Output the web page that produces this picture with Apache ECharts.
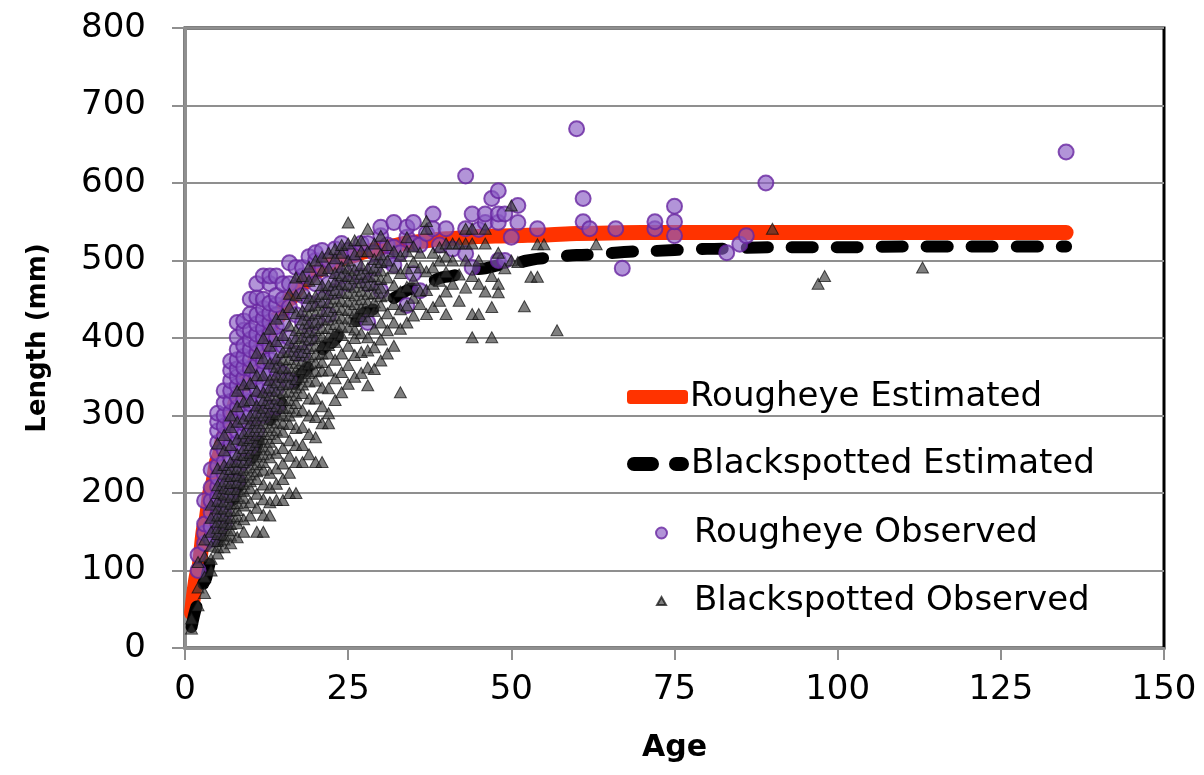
<!DOCTYPE html>
<html>
<head>
<meta charset="utf-8">
<script src="https://cdn.jsdelivr.net/npm/echarts@6/dist/echarts.min.js"></script>
<style>
  html, body { margin: 0; padding: 0; background: #fff; }
  #chart { width: 1204px; height: 775px; }
</style>
</head>
<body>
<div id="chart"></div>
<script>
// Axis ticks
const ageTicks = [0, 25, 50, 75, 100, 125, 150];
const lengthTicks = [0, 100, 200, 300, 400, 500, 600, 700, 800];

// Estimated growth curves (age in years, length in mm)
const estimatedAges = [1, 2, 3, 4, 5, 6, 7, 8, 9, 10, 12, 14, 16, 18, 20, 22, 25, 28, 31, 35, 40, 45, 50, 55, 60, 70, 80, 90, 100, 110, 120, 135];
const rougheyeEstimated = [45, 100, 158, 205, 243, 275, 300, 322, 342, 360, 394, 425, 450, 470, 485, 495, 505, 512, 518, 524, 528, 531, 532, 533, 535, 536, 536, 536, 536, 536, 536, 536];
const blackspottedEstimated = [27, 57, 86, 113, 139, 163, 186, 206, 226, 244, 278, 307, 333, 355, 375, 392, 415, 434, 449, 464, 479, 489, 497, 503, 507, 512, 515, 517, 517, 518, 518, 518];

// Observed fish: [age, [lengths at that age]]
const rougheyeObserved = [
  [2, [100, 120]],
  [3, [135, 148, 160, 190]],
  [4, [140, 156, 175, 190, 207, 230]],
  [5, [150, 162, 172, 184, 195, 208, 220, 235, 251, 265, 280, 292, 303]],
  [6, [161, 173, 185, 198, 210, 225, 240, 256, 272, 286, 300, 316, 332]],
  [7, [200, 215, 230, 246, 262, 276, 290, 304, 318, 332, 345, 358, 370]],
  [8, [216, 233, 250, 265, 280, 295, 310, 324, 338, 350, 360, 372, 385, 401, 420]],
  [9, [240, 258, 275, 290, 305, 320, 335, 348, 362, 376, 390, 410, 422]],
  [10, [259, 280, 300, 315, 330, 345, 360, 372, 385, 398, 410, 431, 450]],
  [11, [280, 300, 320, 335, 350, 365, 380, 392, 405, 418, 430, 452, 470]],
  [12, [300, 320, 340, 355, 370, 385, 400, 412, 425, 438, 450, 480]],
  [13, [311, 335, 355, 372, 390, 405, 420, 432, 445, 470, 480]],
  [14, [311, 335, 360, 380, 400, 415, 430, 443, 455, 480]],
  [15, [354, 390, 420, 450, 470]],
  [16, [345, 400, 440, 470, 497]],
  [17, [380, 430, 465, 491]],
  [18, [380, 420, 455, 480, 491]],
  [19, [400, 445, 480, 505]],
  [20, [420, 470, 500, 510]],
  [21, [450, 490, 513]],
  [22, [430, 470, 500]],
  [23, [460, 490, 515]],
  [24, [480, 505, 522]],
  [25, [470, 513]],
  [26, [495, 510]],
  [27, [480, 522]],
  [28, [420, 470, 522]],
  [29, [490, 510]],
  [30, [461, 532, 543]],
  [31, [500, 520]],
  [32, [494, 517, 549]],
  [33, [510]],
  [34, [442, 530, 543]],
  [35, [483, 522, 549]],
  [36, [461, 520]],
  [37, [535]],
  [38, [541, 560]],
  [39, [520]],
  [40, [541]],
  [41, [515]],
  [43, [509, 541, 609]],
  [44, [491, 560]],
  [45, [540]],
  [46, [549, 560]],
  [47, [580]],
  [48, [500, 549, 560, 590]],
  [49, [500, 560]],
  [50, [530]],
  [51, [549, 571]],
  [54, [541]],
  [60, [670]],
  [61, [550, 580]],
  [62, [541]],
  [66, [541]],
  [67, [490]],
  [72, [541, 550]],
  [75, [532, 550, 570]],
  [83, [510]],
  [85, [521]],
  [86, [532]],
  [89, [600]],
  [135, [640]]
];

const blackspottedObserved = [
  [1, [25, 38]],
  [2, [55, 78, 111]],
  [3, [71, 92, 118, 140]],
  [4, [100, 115, 132, 150, 168, 185]],
  [5, [122, 130, 138, 147, 155, 163, 171, 180, 190, 200, 210, 232, 264]],
  [6, [130, 140, 146, 155, 162, 171, 180, 189, 198, 206, 215, 225, 236, 255, 275]],
  [7, [135, 145, 152, 160, 168, 177, 186, 195, 205, 213, 222, 231, 240, 262, 285, 300]],
  [8, [143, 161, 170, 178, 187, 196, 205, 214, 223, 232, 241, 250, 270, 292, 312, 332]],
  [9, [150, 166, 184, 194, 203, 212, 221, 230, 240, 249, 258, 268, 277, 296, 318, 340]],
  [10, [171, 188, 206, 215, 224, 233, 243, 252, 262, 271, 280, 290, 300, 320, 342, 362]],
  [11, [150, 181, 199, 218, 228, 237, 247, 256, 266, 275, 285, 294, 304, 313, 332, 352, 381]],
  [12, [150, 172, 192, 211, 230, 240, 250, 260, 270, 280, 290, 300, 310, 320, 330, 352, 374, 400]],
  [13, [171, 188, 207, 226, 246, 256, 266, 276, 285, 295, 305, 316, 326, 336, 346, 367, 390, 412]],
  [14, [191, 212, 232, 252, 271, 281, 291, 302, 312, 322, 332, 343, 353, 363, 374, 396, 425]],
  [15, [191, 218, 238, 258, 279, 290, 300, 310, 320, 330, 340, 350, 361, 372, 382, 404, 431]],
  [16, [200, 226, 248, 268, 289, 300, 310, 320, 331, 341, 352, 362, 373, 383, 394, 416, 440, 457]],
  [17, [200, 240, 262, 284, 305, 316, 326, 336, 347, 358, 368, 378, 389, 400, 410, 432, 455, 478]],
  [18, [240, 262, 285, 307, 329, 340, 350, 360, 371, 382, 392, 402, 413, 424, 435, 458, 480]],
  [19, [250, 276, 300, 322, 344, 355, 366, 376, 387, 398, 408, 419, 430, 441, 452, 474, 492]],
  [20, [240, 272, 298, 322, 345, 357, 368, 379, 390, 400, 410, 421, 432, 443, 454, 476, 500]],
  [21, [240, 290, 312, 336, 358, 369, 380, 391, 402, 413, 424, 435, 446, 457, 468, 487, 505]],
  [22, [290, 303, 335, 358, 380, 391, 402, 413, 424, 435, 446, 457, 468, 490, 510]],
  [23, [320, 348, 372, 395, 407, 418, 429, 440, 451, 462, 473, 484, 503, 515]],
  [24, [330, 356, 380, 404, 415, 426, 437, 448, 459, 470, 481, 492, 510, 520]],
  [25, [341, 365, 390, 414, 425, 436, 447, 458, 469, 480, 490, 500, 522, 549]],
  [26, [350, 378, 400, 411, 422, 433, 444, 455, 466, 477, 488, 508, 526]],
  [27, [355, 382, 406, 428, 439, 450, 461, 472, 483, 494, 512, 526]],
  [28, [339, 362, 384, 401, 424, 435, 446, 457, 468, 479, 490, 512, 541]],
  [29, [360, 388, 412, 435, 446, 458, 469, 480, 491, 502, 522]],
  [30, [371, 398, 420, 442, 454, 465, 476, 487, 498, 508, 532]],
  [31, [380, 410, 432, 455, 478, 500, 520]],
  [32, [390, 420, 444, 468, 490, 512]],
  [33, [330, 412, 437, 460, 484, 506]],
  [34, [420, 442, 466, 490, 512, 530]],
  [35, [429, 452, 475, 498, 518]],
  [36, [444, 461, 491, 510]],
  [37, [431, 462, 486, 541, 551]],
  [38, [440, 470, 491, 510]],
  [39, [448, 474, 500, 517]],
  [40, [431, 460, 485, 505, 522]],
  [41, [470, 500, 522]],
  [42, [448, 482, 522]],
  [43, [465, 500, 522, 541]],
  [44, [401, 431, 480, 522, 541]],
  [45, [431, 470, 500]],
  [46, [460, 522, 541]],
  [47, [401, 440, 480]],
  [48, [459, 470, 510]],
  [49, [490]],
  [50, [571, 500]],
  [51, [498]],
  [52, [441]],
  [53, [479]],
  [54, [479, 521]],
  [55, [521]],
  [57, [410]],
  [63, [521]],
  [90, [541]],
  [97, [470]],
  [98, [480]],
  [113, [491]]
];

// Turn [age, [lengths]] groups into scatter points
function toPoints(groups) {
  const pts = [];
  groups.forEach(([age, lengths]) => lengths.forEach(len => pts.push([age, len])));
  return pts;
}
function toCurve(ages, lengths) {
  return ages.map((a, i) => [a, lengths[i]]);
}

const FONT = 'DejaVu Sans';
const GRID_GRAY = '#8f8f8f';
const RED = '#ff3300';
const PURPLE_FILL = 'rgba(138, 92, 195, 0.82)';
const PURPLE_EDGE = 'rgba(104, 38, 160, 1)';
const TRI_FILL = 'rgba(55, 55, 55, 0.8)';
const TRI_EDGE = 'rgba(15, 15, 15, 0.9)';

const names = ['Rougheye Estimated', 'Blackspotted Estimated', 'Rougheye Observed', 'Blackspotted Observed'];
const legendText = { fontFamily: FONT, fontSize: 34, color: '#000' };

const chart = echarts.init(document.getElementById('chart'), null, { renderer: 'canvas' });
chart.setOption({
  animation: false,
  backgroundColor: '#fff',
  grid: {
    left: 185, right: 40, top: 28, bottom: 127,
    show: true, borderColor: '#000', borderWidth: 3, backgroundColor: 'transparent'
  },
  xAxis: {
    type: 'value', min: ageTicks[0], max: ageTicks[ageTicks.length - 1], interval: 25,
    name: 'Age', nameLocation: 'middle', nameGap: 85,
    nameTextStyle: { fontFamily: FONT, fontSize: 30, fontWeight: 'bold', color: '#000' },
    axisLine: { show: true, lineStyle: { color: GRID_GRAY, width: 3 } },
    axisTick: { show: true, length: 12, lineStyle: { color: GRID_GRAY, width: 2 } },
    axisLabel: { fontFamily: FONT, fontSize: 34, color: '#000', margin: 25 },
    splitLine: { show: false }
  },
  yAxis: {
    type: 'value', min: lengthTicks[0], max: lengthTicks[lengthTicks.length - 1], interval: 100,
    name: 'Length (mm)', nameLocation: 'middle', nameGap: 134,
    nameTextStyle: { fontFamily: FONT, fontSize: 26, fontWeight: 'bold', color: '#000' },
    axisLine: { show: true, lineStyle: { color: GRID_GRAY, width: 3 } },
    axisTick: { show: true, length: 13, lineStyle: { color: GRID_GRAY, width: 2 } },
    axisLabel: { fontFamily: FONT, fontSize: 34, color: '#000', margin: 39 },
    splitLine: { show: true, lineStyle: { color: GRID_GRAY, width: 2 } }
  },
  legend: [
    {
      data: [{ name: names[0], icon: 'roundRect' }],
      left: 622, top: 375, itemWidth: 61, itemHeight: 14, itemGap: 0,
      textStyle: Object.assign({ padding: [0, 0, 0, -3] }, legendText),
      selectedMode: false
    },
    {
      data: [{
        name: names[1],
        icon: 'path://M7,0 H25 A7,7 0 0 1 25,14 H7 A7,7 0 0 1 7,0 Z M49,0 H55 A7,7 0 0 1 55,14 H49 A7,7 0 0 1 49,0 Z',
        itemStyle: { color: '#000', borderWidth: 0 }
      }],
      left: 622, top: 442, itemWidth: 62, itemHeight: 14,
      textStyle: Object.assign({ padding: [0, 0, 0, -3] }, legendText),
      selectedMode: false
    },
    {
      data: [{ name: names[2], icon: 'circle' }],
      left: 650, top: 511, itemWidth: 11, itemHeight: 11,
      textStyle: Object.assign({ padding: [0, 0, 0, 22] }, legendText),
      selectedMode: false
    },
    {
      data: [{ name: names[3], icon: 'triangle' }],
      left: 651, top: 579, itemWidth: 9, itemHeight: 8,
      textStyle: Object.assign({ padding: [0, 0, 0, 23] }, legendText),
      selectedMode: false
    }
  ],
  series: [
    {
      name: names[0], type: 'line', data: toCurve(estimatedAges, rougheyeEstimated),
      showSymbol: false, smooth: 0.3, smoothMonotone: 'x',
      itemStyle: { color: RED },
      lineStyle: { color: RED, width: 15, cap: 'round', join: 'round' },
      z: 2
    },
    {
      name: names[1], type: 'line', data: toCurve(estimatedAges, blackspottedEstimated),
      showSymbol: false, smooth: 0.3, smoothMonotone: 'x',
      itemStyle: { color: '#000' },
      lineStyle: { color: '#000', width: 12, type: [21, 24], cap: 'round', join: 'round' },
      z: 3
    },
    {
      name: names[2], type: 'scatter', data: toPoints(rougheyeObserved),
      symbol: 'circle', symbolSize: 15,
      itemStyle: { color: PURPLE_FILL, borderColor: PURPLE_EDGE, borderWidth: 2 },
      z: 4
    },
    {
      name: names[3], type: 'scatter', data: toPoints(blackspottedObserved),
      symbol: 'triangle', symbolSize: [12, 11],
      itemStyle: { color: TRI_FILL, borderColor: TRI_EDGE, borderWidth: 1 },
      z: 5
    }
  ]
});
</script>
</body>
</html>
